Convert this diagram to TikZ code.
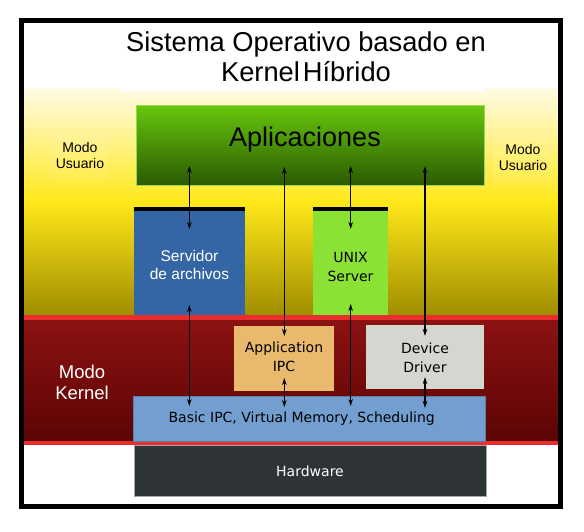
\documentclass[tikz,border=0pt]{standalone}
\usepackage{fontspec}
\setmainfont{Liberation Sans}
\newfontfamily\dvfont{DejaVu Sans}
\usetikzlibrary{arrows.meta,calc}
\definecolor{creamtop}{HTML}{FFFBE6}
\definecolor{yelmid}{HTML}{FFE81A}
\definecolor{olivebot}{HTML}{A08D00}
\definecolor{redline}{HTML}{EA2E2E}
\definecolor{krtop}{HTML}{8C1212}
\definecolor{krbot}{HTML}{5C0404}
\definecolor{apptop}{HTML}{67C70C}
\definecolor{appbot}{HTML}{2B5A04}
\definecolor{srvblue}{HTML}{3465A4}
\definecolor{unixgreen}{HTML}{8AE234}
\definecolor{ipcorange}{HTML}{E9B96E}
\definecolor{devgray}{HTML}{D3D7CF}
\definecolor{basicblue}{HTML}{729FCF}
\definecolor{hwdark}{HTML}{2E3436}
\begin{document}
\begin{tikzpicture}[x=1pt,y=-1pt,
  boxshape/.style={rectangle,inner sep=0pt,outer sep=0pt},
  lbl/.style={inner sep=0pt,align=center},
  dvlbl/.style={lbl,font=\dvfont\fontsize{14}{19}\selectfont},
  dbl/.style={{Stealth[length=7pt,width=4.5pt]}-{Stealth[length=7pt,width=4.5pt]},line width=1.2pt,black},
  topbar/.style={line width=4pt,black}]
\useasboundingbox (0,0) rectangle (584,531);
\fill[white] (0,0) rectangle (584,531);
% bands
\shade[top color=creamtop,bottom color=olivebot,middle color=yelmid] (24,88) rectangle (558,315);
\fill[white] (122,80) rectangle (485,91);
\fill[redline] (24,315) rectangle (558,320);
\shade[top color=krtop,bottom color=krbot] (24,320) rectangle (558,441);
\fill[redline] (24,441) rectangle (558,445);
% title
\node[lbl,font=\fontsize{27.3}{30}\selectfont] (title) at (306,57) {Sistema Operativo basado en\\Kernel\kern3pt Híbrido};
% mode labels
\node[boxshape,fill=white,fill opacity=0.07,minimum width=59pt,minimum height=49pt] (mu1) at (79.5,156.5) {};
\node[lbl,font=\fontsize{14}{16.5}\selectfont] (mu1t) at (80,155.5) {Modo\\Usuario};
\node[boxshape,fill=white,fill opacity=0.07,minimum width=59pt,minimum height=51pt] (mu2) at (522.5,157.5) {};
\node[lbl,font=\fontsize{14}{16.5}\selectfont] (mu2t) at (523,157.5) {Modo\\Usuario};
\node[lbl,text=white,font=\fontsize{18.5}{21}\selectfont] (mk) at (82,382) {Modo\\Kernel};
% boxes
\node[boxshape,top color=apptop,bottom color=appbot,draw=apptop!70!white,line width=0.6pt,minimum width=348pt,minimum height=80pt] (app) at (310,145) {};
\node[lbl,font=\fontsize{27}{30}\selectfont] (appt) at (305,140) {Aplicaciones};
\node[boxshape,fill=srvblue,minimum width=111.3pt,minimum height=104.3pt] (srv) at (189.35,262.85) {};
\draw[topbar] ($(srv.north west)+(0,-2)$) -- ($(srv.north east)+(0,-2)$);
\node[lbl,text=white,font=\fontsize{15.5}{18.5}\selectfont] (srvt) at (189.5,265) {Servidor\\de archivos};
\node[boxshape,fill=unixgreen,minimum width=75.3pt,minimum height=104.3pt] (unix) at (350.35,262.85) {};
\draw[topbar] ($(unix.north west)+(0,-2)$) -- ($(unix.north east)+(0,-2)$);
\node[dvlbl] (unixt) at (350.5,266.5) {UNIX\\Server};
\node[boxshape,fill=ipcorange,minimum width=100pt,minimum height=64.7pt] (ipc) at (284,358.35) {};
\node[dvlbl] (ipct) at (284,356.5) {Application\\IPC};
\node[boxshape,fill=devgray,minimum width=118.6pt,minimum height=64.3pt] (dev) at (425,356.85) {};
\node[dvlbl] (devt) at (425,358) {Device\\Driver};
\node[boxshape,fill=basicblue,draw=basicblue!80!black,line width=0.5pt,minimum width=352pt,minimum height=44.7pt] (basic) at (309.7,418.65) {};
\node[dvlbl] (basict) at (301.7,418.5) {Basic IPC, Virtual Memory, Scheduling};
\node[boxshape,fill=hwdark,draw=gray!70,line width=0.5pt,minimum width=352pt,minimum height=51pt] (hw) at (310,470.5) {};
\node[dvlbl,text=white] (hwt) at (310,471) {Hardware};
% arrow end points
\coordinate (a1t) at (189.3,166); \coordinate (a1b) at (189.3,229);
\coordinate (a1c) at (189.3,305); \coordinate (a1d) at (189.3,406);
\coordinate (a2t) at (284.3,167); \coordinate (a2b) at (284.3,336);
\coordinate (a2c) at (284.3,378); \coordinate (a2d) at (284.3,407);
\coordinate (a3t) at (350.7,166); \coordinate (a3b) at (350.7,229);
\coordinate (a3c) at (350.7,304); \coordinate (a3d) at (350.7,406);
\coordinate (a4t) at (425,166); \coordinate (a4b) at (425,336);
\coordinate (a4c) at (425,377); \coordinate (a4d) at (425,408);
\draw[dbl] (a1t) -- (a1b);
\draw[dbl] (a1c) -- (a1d);
\draw[dbl] (a2t) -- (a2b);
\draw[dbl] (a2c) -- (a2d);
\draw[dbl] (a3t) -- (a3b);
\draw[dbl] (a3c) -- (a3d);
\draw[dbl] (a4t) -- (a4b);
\draw[dbl] (a4c) -- (a4d);
% frame
\draw[line width=5pt] (21.5,20.5) rectangle (560.5,506.5);
\end{tikzpicture}
\end{document}
